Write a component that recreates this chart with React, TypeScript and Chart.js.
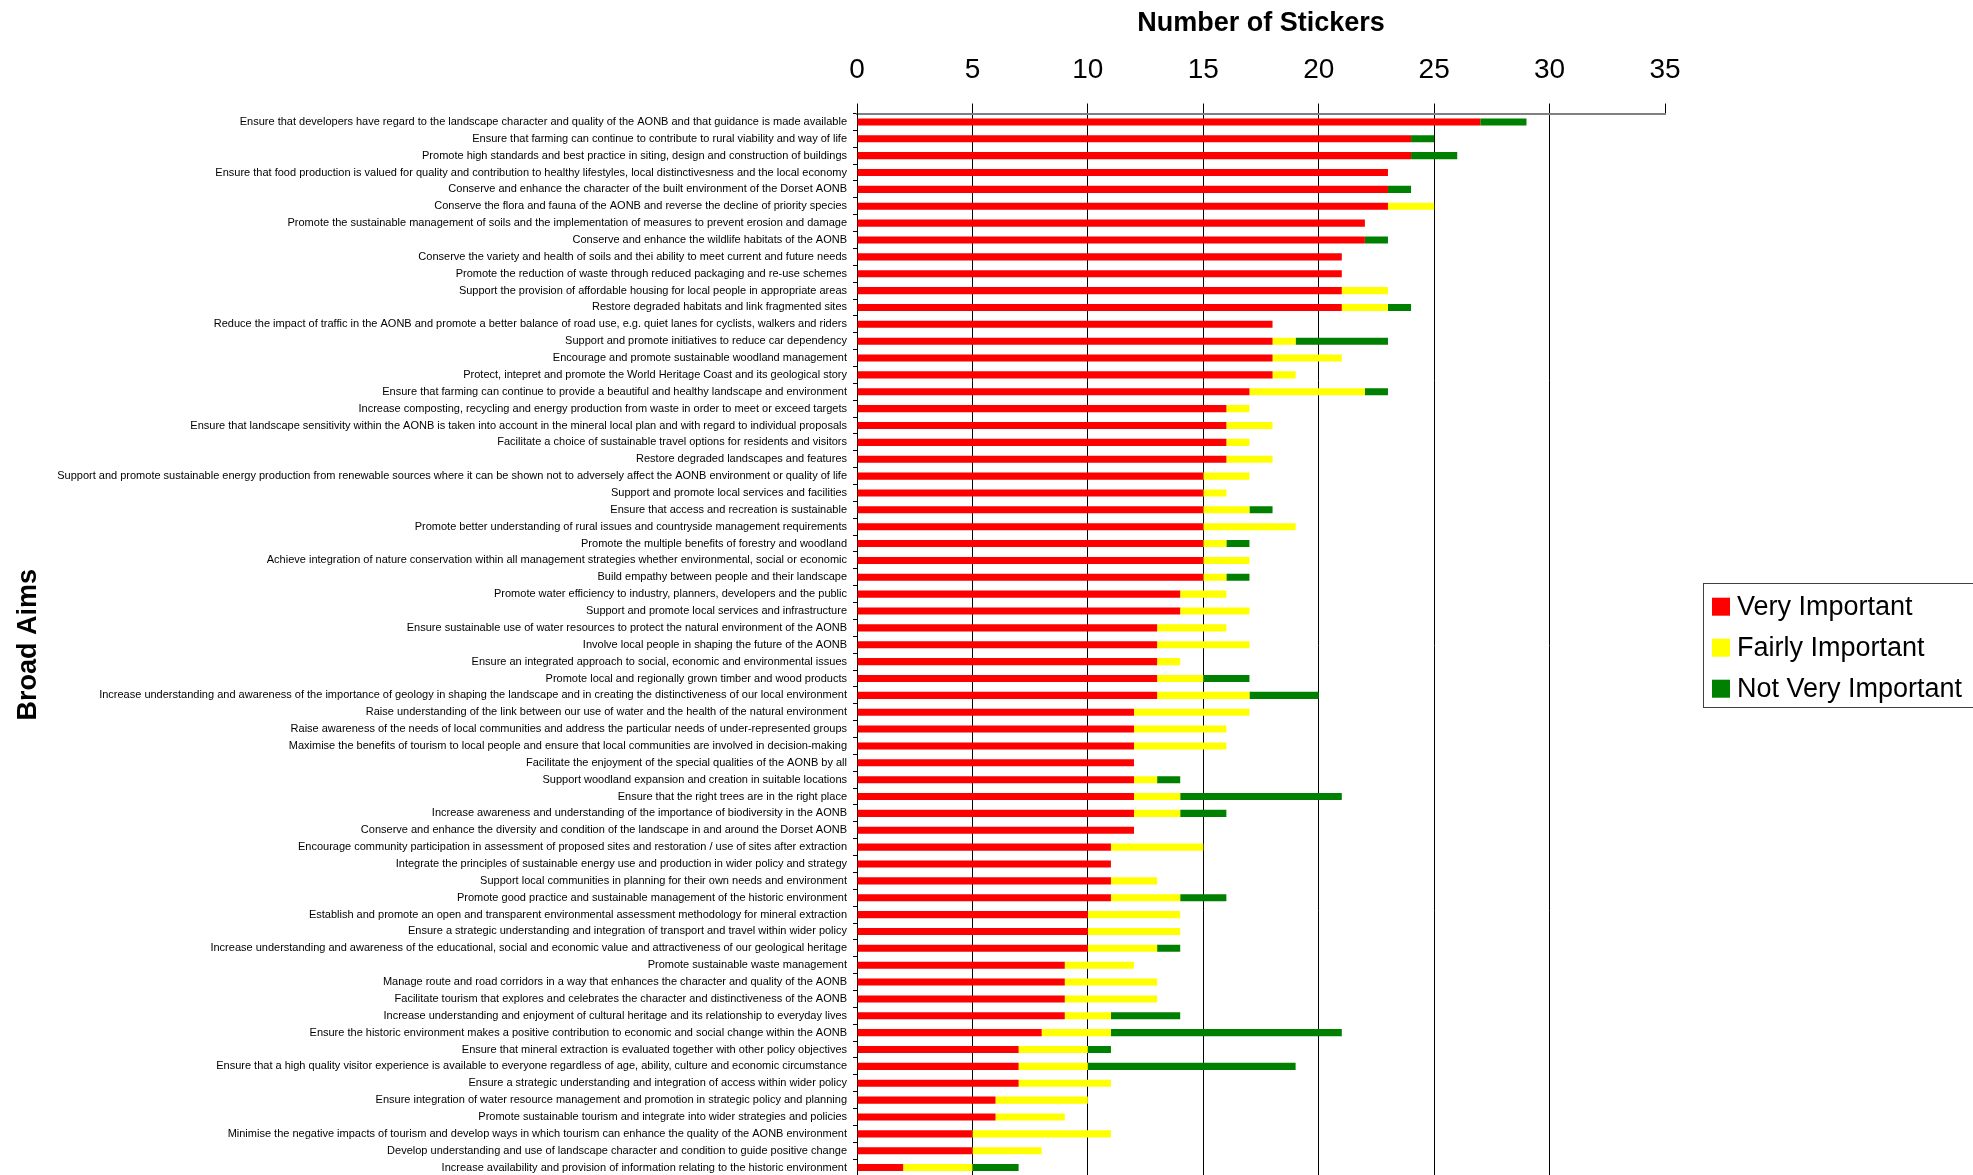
import React, { useEffect, useRef } from "react";
import { Chart, registerables } from "chart.js";

Chart.register(...registerables);

const categories: string[] = [
  "Ensure that developers have regard to the landscape character and quality of the AONB and that guidance is made available",
  "Ensure that farming can continue to contribute to rural viability and way of life",
  "Promote high standards and best practice in siting, design and construction of buildings",
  "Ensure that food production is valued for quality and contribution to healthy lifestyles, local distinctivesness and the local economy",
  "Conserve and enhance the character of the built environment of the Dorset AONB",
  "Conserve the flora and fauna of the AONB and reverse the decline of priority species",
  "Promote the sustainable management of soils and the implementation of measures to prevent erosion and damage",
  "Conserve and enhance the wildlife habitats of the AONB",
  "Conserve the variety and health of soils and thei ability to meet current and future needs",
  "Promote the reduction of waste through reduced packaging and re-use schemes",
  "Support the provision of affordable housing for local people in appropriate areas",
  "Restore degraded habitats and link fragmented sites",
  "Reduce the impact of traffic in the AONB and promote a better balance of road use, e.g. quiet lanes for cyclists, walkers and riders",
  "Support and promote initiatives to reduce car dependency",
  "Encourage and promote sustainable woodland management",
  "Protect, intepret and promote the World Heritage Coast and its geological story",
  "Ensure that farming can continue to provide a beautiful and healthy landscape and environment",
  "Increase composting, recycling and energy production from waste in order to meet or exceed targets",
  "Ensure that landscape sensitivity within the AONB is taken into account in the mineral local plan and with regard to individual proposals",
  "Facilitate a choice of sustainable travel options for residents and visitors",
  "Restore degraded landscapes and features",
  "Support and promote sustainable energy production from renewable sources where it can be shown not to adversely affect the AONB environment or quality of life",
  "Support and promote local services and facilities",
  "Ensure that access and recreation is sustainable",
  "Promote better understanding of rural issues and countryside management requirements",
  "Promote the multiple benefits of forestry and woodland",
  "Achieve integration of nature conservation within all management strategies whether environmental, social or economic",
  "Build empathy between people and their landscape",
  "Promote water efficiency to industry, planners, developers and the public",
  "Support and promote local services and infrastructure",
  "Ensure sustainable use of water resources to protect the natural environment of the AONB",
  "Involve local people in shaping the future of the AONB",
  "Ensure an integrated approach to social, economic and environmental issues",
  "Promote local and regionally grown timber and wood products",
  "Increase understanding and awareness of the importance of geology in shaping the landscape and in creating the distinctiveness of our local environment",
  "Raise understanding of the link between our use of water and the health of the natural environment",
  "Raise awareness of the needs of local communities and address the particular needs of under-represented groups",
  "Maximise the benefits of tourism to local people and ensure that local communities are involved in decision-making",
  "Facilitate the enjoyment of the special qualities of the AONB by all",
  "Support woodland expansion and creation in suitable locations",
  "Ensure that the right trees are in the right place",
  "Increase awareness and understanding of the importance of biodiversity in the AONB",
  "Conserve and enhance the diversity and condition of the landscape in and around the Dorset AONB",
  "Encourage community participation in assessment of proposed sites and restoration / use of sites after extraction",
  "Integrate the principles of sustainable energy use and production in wider policy and strategy",
  "Support local communities in planning for their own needs and environment",
  "Promote good practice and sustainable management of the historic environment",
  "Establish and promote an open and transparent environmental assessment methodology for mineral extraction",
  "Ensure a strategic understanding and integration of transport and travel within wider policy",
  "Increase understanding and awareness of the educational, social and economic value and attractiveness of our geological heritage",
  "Promote sustainable waste management",
  "Manage route and road corridors in a way that enhances the character and quality of the AONB",
  "Facilitate tourism that explores and celebrates the character and distinctiveness of the AONB",
  "Increase understanding and enjoyment of cultural heritage and its relationship to everyday lives",
  "Ensure the historic environment makes a positive contribution to economic and social change within the AONB",
  "Ensure that mineral extraction is evaluated together with other policy objectives",
  "Ensure that a high quality visitor experience is available to everyone regardless of age, ability, culture and economic circumstance",
  "Ensure a strategic understanding and integration of access within wider policy",
  "Ensure integration of water resource management and promotion in strategic policy and planning",
  "Promote sustainable tourism and integrate into wider strategies and policies",
  "Minimise the negative impacts of tourism and develop ways in which tourism can enhance the quality of the AONB environment",
  "Develop understanding and use of landscape character and condition to guide positive change",
  "Increase availability and provision of information relating to the historic environment",
];

const veryImportant: number[] = [
  27, 24, 24, 23, 23, 23, 22, 22, 21, 21, 21, 21, 18, 18, 18, 18, 17, 16, 16, 16, 16,
  15, 15, 15, 15, 15, 15, 15, 14, 14, 13, 13, 13, 13, 13, 12, 12, 12, 12, 12, 12, 12,
  12, 11, 11, 11, 11, 10, 10, 10, 9, 9, 9, 9, 8, 7, 7, 7, 6, 6, 5, 5, 2,
];

const fairlyImportant: number[] = [
  0, 0, 0, 0, 0, 2, 0, 0, 0, 0, 2, 2, 0, 1, 3, 1, 5, 1, 2, 1, 2,
  2, 1, 2, 4, 1, 2, 1, 2, 3, 3, 4, 1, 2, 4, 5, 4, 4, 0, 1, 2, 2,
  0, 4, 0, 2, 3, 4, 4, 3, 3, 4, 4, 2, 3, 3, 3, 4, 4, 3, 6, 3, 3,
];

const notVeryImportant: number[] = [
  2, 1, 2, 0, 1, 0, 0, 1, 0, 0, 0, 1, 0, 4, 0, 0, 1, 0, 0, 0, 0,
  0, 0, 1, 0, 1, 0, 1, 0, 0, 0, 0, 0, 2, 3, 0, 0, 0, 0, 1, 7, 2,
  0, 0, 0, 0, 2, 0, 0, 1, 0, 0, 0, 3, 10, 1, 9, 0, 0, 0, 0, 0, 2,
];

const seriesNames: string[] = ["Very Important", "Fairly Important", "Not Very Important"];
const seriesColors: string[] = ["#FF0000", "#FFFF00", "#008000"];

const xAxisTitle = "Number of Stickers";
const yAxisTitle = "Broad Aims";
const xMin = 0;
const xMax = 35;
const xStep = 5;

const FONT = '"Liberation Sans", Arial, Helvetica, sans-serif';

const boxLegendPlugin = {
  id: "boxLegend",
  afterDraw(chart: any) {
    const ctx = chart.ctx as CanvasRenderingContext2D;
    ctx.save();
    ctx.fillStyle = "#ffffff";
    ctx.fillRect(1703, 583, 300, 125);
    ctx.strokeStyle = "#404040";
    ctx.lineWidth = 1;
    ctx.strokeRect(1703.5, 583.5, 300, 124);
    ctx.font = `27px ${FONT}`;
    ctx.textBaseline = "alphabetic";
    ctx.textAlign = "left";
    chart.data.datasets.forEach((ds: any, i: number) => {
      const cy = 606.7 + i * 41;
      ctx.fillStyle = ds.backgroundColor;
      ctx.fillRect(1712, cy - 9, 18, 18);
      ctx.fillStyle = "#000000";
      ctx.fillText(ds.label, 1737, 614.5 + i * 41);
    });
    ctx.restore();
  },
};

function StickerChart() {
  const canvasRef = useRef<HTMLCanvasElement | null>(null);

  useEffect(() => {
    if (!canvasRef.current) return;
    Chart.defaults.font.family = FONT;
    const seriesValues = [veryImportant, fairlyImportant, notVeryImportant];
    const chart = new Chart(canvasRef.current, {
      type: "bar",
      data: {
        labels: categories,
        datasets: seriesNames.map((name, i) => ({
          label: name,
          data: seriesValues[i],
          backgroundColor: seriesColors[i],
          borderWidth: 0,
          barPercentage: 0.42,
          categoryPercentage: 1,
        })),
      },
      options: {
        indexAxis: "y",
        responsive: false,
        animation: false,
        layout: { padding: { left: 0, top: 0, right: 308, bottom: 0 } },
        plugins: {
          legend: { display: false },
          tooltip: { enabled: false },
        },
        scales: {
          x: {
            type: "linear",
            position: "top",
            stacked: true,
            min: xMin,
            max: xMax,
            ticks: {
              stepSize: xStep,
              color: "#000000",
              font: { size: 28, family: FONT },
              padding: 16,
            },
            grid: {
              color: (ctx: any) =>
                ctx.tick && (ctx.tick.value === xMin || ctx.tick.value === xMax)
                  ? "rgba(0,0,0,0)"
                  : "#000000",
              tickColor: "#000000",
              lineWidth: 1,
              tickLength: 10,
              drawOnChartArea: true,
              drawTicks: true,
            },
            border: { display: true, color: "#808080", width: 2 },
            title: {
              display: true,
              text: xAxisTitle,
              color: "#000000",
              font: { size: 27, weight: "bold", family: FONT },
              padding: { top: 7, bottom: 4 },
            },
            afterFit: (scale: any) => {
              scale.height = 113.5;
            },
          },
          y: {
            type: "category",
            position: "left",
            stacked: true,
            ticks: {
              autoSkip: false,
              color: "#000000",
              font: { size: 11, family: FONT },
              padding: 6,
            },
            grid: {
              offset: true,
              drawOnChartArea: false,
              drawTicks: true,
              tickLength: 4,
              color: "#000000",
              tickColor: "#000000",
            },
            border: { display: true, color: "#000000", width: 1 },
            title: {
              display: true,
              text: yAxisTitle,
              color: "#000000",
              font: { size: 27, weight: "bold", family: FONT },
              padding: { top: 12, bottom: 4 },
            },
            afterFit: (scale: any) => {
              scale.width = 857;
              scale.paddingTop = 0;
              scale.paddingBottom = 0;
            },
          },
        },
      },
      plugins: [boxLegendPlugin],
    } as any);
    return () => {
      chart.destroy();
    };
  }, []);

  return (
    <div
      style={{
        position: "fixed",
        left: 0,
        top: 0,
        width: 1973,
        height: 1176,
        background: "#ffffff",
      }}
    >
      <canvas ref={canvasRef} width={1973} height={1176} style={{ width: 1973, height: 1176, display: "block" }} />
    </div>
  );
}

export default function App() {
  return <StickerChart />;
}
